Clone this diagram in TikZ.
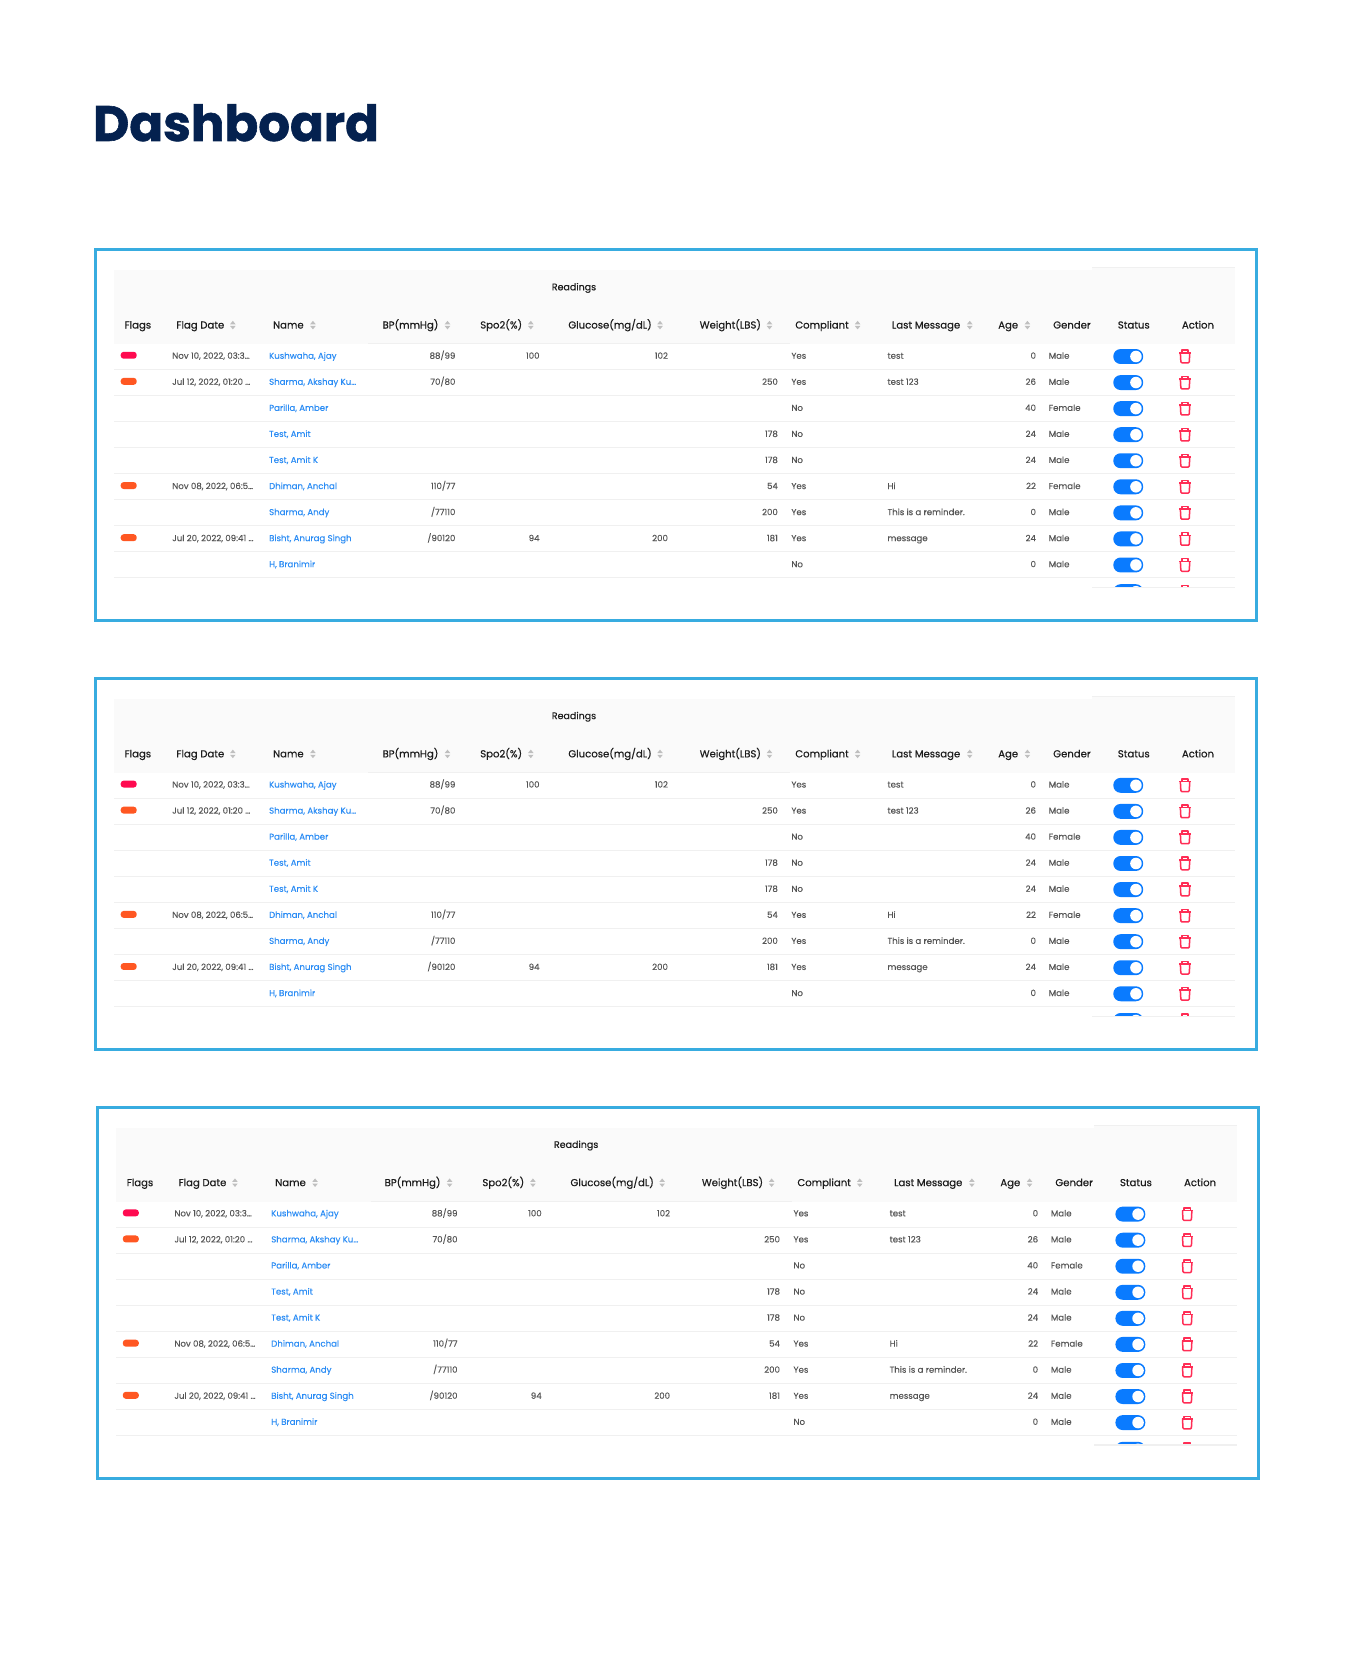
\documentclass[tikz,border=0pt]{standalone}
\usepackage{fontspec}
\setmainfont{Poppins}[FakeBold=0.12]
\newfontfamily\titlefont{Poppins}[BoldFeatures={FakeBold=1.2}]
\newfontfamily\headfont{Poppins}[FakeBold=0.45]
\definecolor{framec}{HTML}{38ACE0}
\definecolor{titlec}{HTML}{04214F}
\definecolor{headbg}{HTML}{FAFAFA}
\definecolor{linec}{HTML}{F0F0F0}
\definecolor{bodyc}{HTML}{555555}
\definecolor{namec}{HTML}{2A8CF5}
\definecolor{headc}{HTML}{1C1C1C}
\definecolor{sortc}{HTML}{BFBFBF}
\definecolor{redc}{HTML}{FF0A50}
\definecolor{orangec}{HTML}{FF5722}
\definecolor{togglec}{HTML}{0A7BFF}
\definecolor{trashc}{HTML}{FF2D55}
\tikzset{
  x=1.068pt,y=-1.068pt,
  base/.style={inner sep=0pt,outer sep=0pt,font=\fontsize{8.6}{10}\selectfont,text=bodyc},
  bl/.style={base,anchor=base west},
  br/.style={base,anchor=base east},
  nm/.style={base,anchor=base west,text=namec},
  hd/.style={inner sep=0pt,anchor=base west,font=\headfont\fontsize{10.1}{12}\selectfont,text=headc},
  panelframe/.style={draw=framec,line width=3.1pt,fill=white},
  sep/.style={draw=linec,line width=.9pt},
  sortmark/.style={fill=sortc},
  trash/.style={draw=trashc,line width=1.5pt,line join=round,fill=none},
}
\newcommand{\sortat}[1]{%
  \fill[sortmark] (#1-2.6,303.6)--(#1+2.6,303.6)--(#1,300.4)--cycle;
  \fill[sortmark] (#1-2.6,305.2)--(#1+2.6,305.2)--(#1,308.4)--cycle;}
\newcommand{\trashat}[1]{%
  \begin{scope}[shift={(1109.6,#1)}]
    \draw[trash] (-5.3,-3.4)--(5.3,-3.4);
    \draw[trash] (-2.9,-3.4)--(-2.9,-5.9)--(2.9,-5.9)--(2.9,-3.4);
    \draw[trash,rounded corners=1pt] (-4.4,-3.4)--(-3.9,5.9)--(3.9,5.9)--(4.4,-3.4);
  \end{scope}}
\begin{document}
\begin{tikzpicture}
\useasboundingbox (0,0) rectangle (1279,1568.35);
\fill[white] (0,0) rectangle (1279,1568.35);
\node[inner sep=0pt,anchor=base west,text=titlec,font=\titlefont\fontsize{49.8}{60}\bfseries] (title) at (87,132) {Dashboard};
\foreach \pn/\dx/\dy in {a/0/0,b/0/401.5,c/2/803}{
\begin{scope}[shift={(\dx,\dy)}]
  \draw[panelframe] (89,234) rectangle (1176.6,581);
  \fill[headbg] (107,253) rectangle (1022,322);
  \fill[headbg] (1022,250) rectangle (1156.5,322);
  \fill[linec] (1022,250) rectangle (1156.5,251);
  \draw[sep] (345,322)--(740,322);
  \node[hd] (\pn read) at (516.5,271.8) {\fontsize{9.5}{11}\selectfont Readings};
  \foreach \hx/\htxt/\hk in {116.5/Flags/flags,165/Flag Date/fdate,255.5/Name/name,358/BP(mmHg)/bp,449.5/Spo2(\%)/spo,532/{Glucose(mg/dL)}/glu,655/Weight(LBS)/wt,744.5/Compliant/comp,835/Last Message/msg,934.5/Age/age,986/Gender/gen,1046.5/Status/stat,1106.5/Action/act}{
    \node[hd] (\pn h\hk) at (\hx,307.6) {\htxt};
  }
  \foreach \sx in {218,293,419,497,618,720.5,803,908,962}{
    \sortat{\sx}
  }
  \foreach \i/\fl/\dat/\nam/\bpv/\spo/\glu/\wt/\cmp/\msg/\agev/\gen in {
    0/redc/{Nov 10, 2022, 03:3…}/{Kushwaha, Ajay}/{88/99}/100/102//Yes/test/0/Male,
    1/orangec/{Jul 12, 2022, 01:20 …}/{Sharma, Akshay Ku…}/{70/80}///250/Yes/test 123/26/Male,
    2/none//{Parilla, Amber}/////No//40/Female,
    3/none//{Test, Amit}////178/No//24/Male,
    4/none//{Test, Amit K}////178/No//24/Male,
    5/orangec/{Nov 08, 2022, 06:5…}/{Dhiman, Anchal}/{110/77}///54/Yes/Hi/22/Female,
    6/none//{Sharma, Andy}/{/77110}///200/Yes/This is a reminder./0/Male,
    7/orangec/{Jul 20, 2022, 09:41 …}/{Bisht, Anurag Singh}/{/90120}/94/200/181/Yes/message/24/Male,
    8/none//{H, Branimir}/////No//0/Male}{
    \pgfmathsetmacro{\ry}{333+24.4*\i}
    \pgfmathsetmacro{\rb}{\ry+2.9}
    \pgfmathsetmacro{\rl}{\ry+12.9}
    \draw[sep] (107,\rl)--(1156.5,\rl);
    \path[fill=\fl,rounded corners=3pt] (113,\ry-3.6)  rectangle (128,\ry+2.9);
    \node[bl] (\pn date\i) at (161.3,\rb) {\dat};
    \node[nm] (\pn name\i) at (252,\rb) {\nam};
    \node[br] (\pn bp\i) at (426.4,\rb) {\bpv};
    \node[br] (\pn spo\i) at (505.2,\rb) {\spo};
    \node[br] (\pn glu\i) at (625.4,\rb) {\glu};
    \node[br] (\pn wt\i) at (728.3,\rb) {\wt};
    \node[bl] (\pn cmp\i) at (741,\rb) {\cmp};
    \node[bl] (\pn msg\i) at (831,\rb) {\msg};
    \node[br] (\pn age\i) at (970,\rb) {\agev};
    \node[bl] (\pn gen\i) at (982,\rb) {\gen};
    \fill[togglec,rounded corners=7.3pt] (1042.4,\ry-6.2) rectangle (1070.4,\ry+7.8);
    \fill[white] (1063.6,\ry+0.8) circle (5.4);
    \trashat{\ry+0.8}
  }
  \begin{scope}
    \clip (1030,540) rectangle (1156.5,550);
    \fill[togglec,rounded corners=7.3pt] (1042.4,547) rectangle (1070.4,561);
    \fill[white] (1063.6,554) circle (5.4);
    \trashat{554}
  \end{scope}
  \fill[linec] (1022,549.5) rectangle (1156.5,551);
\end{scope}}
\end{tikzpicture}
\end{document}
